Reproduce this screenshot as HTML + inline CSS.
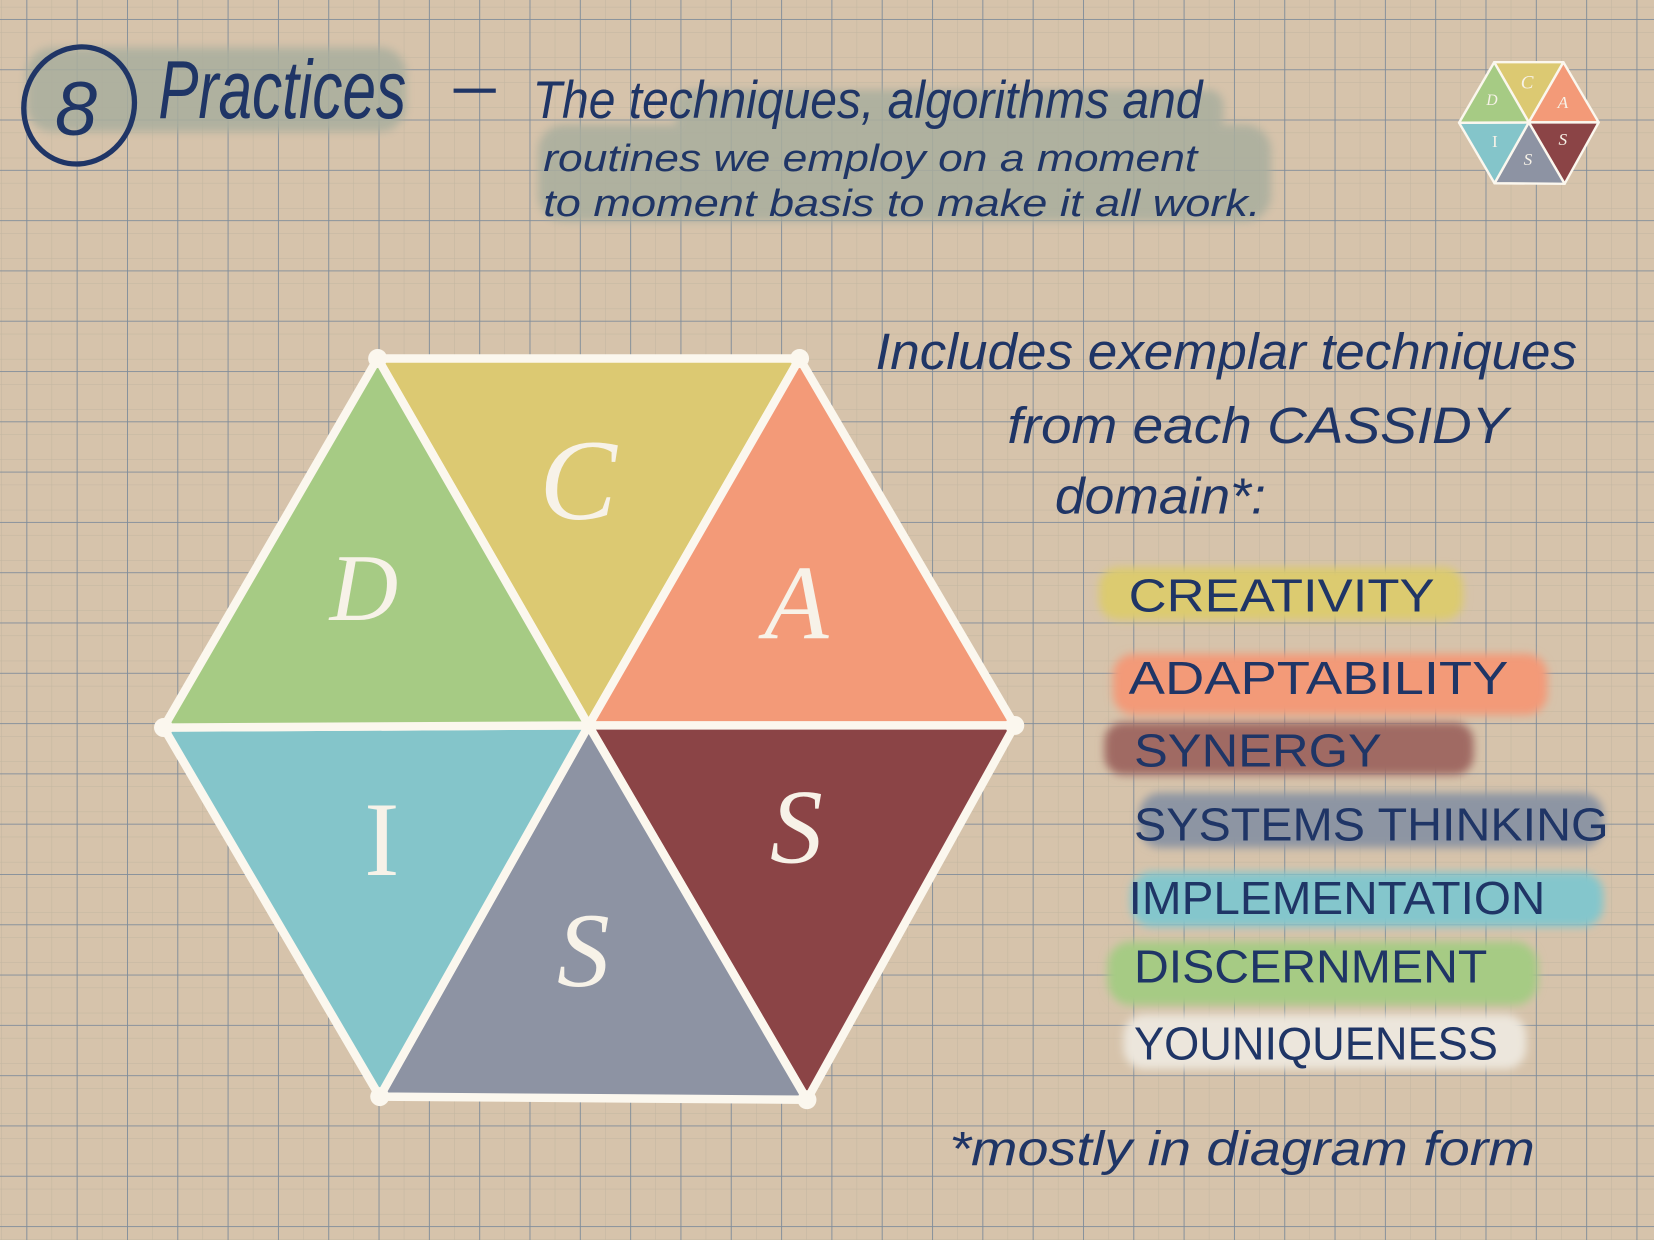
<!DOCTYPE html>
<html><head><meta charset="utf-8"><style>
html,body{margin:0;padding:0;background:#d6c3ab;}
svg{display:block}
</style></head><body>
<svg width="1654" height="1240" viewBox="0 0 1568 1176" preserveAspectRatio="none" xmlns="http://www.w3.org/2000/svg">
<defs>
<pattern id="minor" x="1.2" y="6.5" width="23.85" height="23.85" patternUnits="userSpaceOnUse">
<path d="M0 0H23.85M0 0V23.85" stroke="#c2b6a0" stroke-width="1" fill="none"/>
</pattern>
<pattern id="major" x="25" y="18" width="47.7" height="47.7" patternUnits="userSpaceOnUse">
<path d="M0 0H47.7M0 0V47.7" stroke="#7f8c9a" stroke-width="1.7" fill="none"/>
</pattern>
<filter id="blur" x="-10%" y="-30%" width="120%" height="160%"><feGaussianBlur stdDeviation="4"/></filter>
</defs>
<rect width="1568" height="1176" fill="#d6c3ab"/>
<rect width="1568" height="1176" fill="url(#minor)"/>
<rect width="1568" height="1176" fill="url(#major)"/>

<g filter="url(#blur)" opacity="0.85">
<rect x="25" y="45" width="360" height="80" rx="25" fill="#a9ae9e"/>
<rect x="640" y="85" width="520" height="40" rx="15" fill="#a9ae9e"/>
<rect x="510" y="118" width="695" height="92" rx="25" fill="#a9ae9e"/>
</g>

<g fill="#1f3566" font-family="Liberation Sans, sans-serif">
<ellipse cx="75" cy="100" rx="52" ry="56" fill="none" stroke="#1f3566" stroke-width="5" transform="rotate(20 75 100)"/>
<text x="52" y="128" font-size="72" font-style="italic">8</text>
<text x="150" y="112" font-size="78" font-style="italic" textLength="235" lengthAdjust="spacingAndGlyphs">Practices</text>
<rect x="430" y="84" width="40" height="4"/>
<text x="505" y="112" font-size="50" font-style="italic" textLength="635" lengthAdjust="spacingAndGlyphs">The techniques, algorithms and</text>
<text x="515" y="162" font-size="36" font-style="italic" textLength="620" lengthAdjust="spacingAndGlyphs">routines we employ on a moment</text>
<text x="515" y="205" font-size="36" font-style="italic" textLength="680" lengthAdjust="spacingAndGlyphs">to moment basis to make it all work.</text>

<text x="830" y="350" font-size="48" font-style="italic" textLength="665" lengthAdjust="spacingAndGlyphs">Includes exemplar techniques</text>
<text x="955" y="420" font-size="48" font-style="italic" textLength="475" lengthAdjust="spacingAndGlyphs">from each CASSIDY</text>
<text x="1000" y="487" font-size="48" font-style="italic" textLength="200" lengthAdjust="spacingAndGlyphs">domain*:</text>
</g>

<g filter="url(#blur)">
<rect x="1042" y="538" width="345" height="50" rx="18" fill="#dccb6f"/>
<rect x="1055" y="620" width="412" height="58" rx="20" fill="#f39a78"/>
<rect x="1047" y="685" width="350" height="50" rx="18" fill="#a06a64"/>
<rect x="1080" y="752" width="440" height="52" rx="20" fill="#8d95a3"/>
<rect x="1072" y="827" width="448" height="52" rx="20" fill="#84c6cc"/>
<rect x="1050" y="893" width="408" height="60" rx="22" fill="#a6cb84"/>
<rect x="1065" y="962" width="382" height="52" rx="20" fill="#ece6dc"/>
</g>
<g fill="#1f3566" font-family="Liberation Sans, sans-serif" font-size="44">
<text x="1070" y="580" textLength="290" lengthAdjust="spacingAndGlyphs">CREATIVITY</text>
<text x="1070" y="658" textLength="360" lengthAdjust="spacingAndGlyphs">ADAPTABILITY</text>
<text x="1075" y="727" textLength="235" lengthAdjust="spacingAndGlyphs">SYNERGY</text>
<text x="1075" y="797" textLength="450" lengthAdjust="spacingAndGlyphs">SYSTEMS THINKING</text>
<text x="1070" y="867" textLength="395" lengthAdjust="spacingAndGlyphs">IMPLEMENTATION</text>
<text x="1075" y="932" textLength="335" lengthAdjust="spacingAndGlyphs">DISCERNMENT</text>
<text x="1075" y="1005" textLength="345" lengthAdjust="spacingAndGlyphs">YOUNIQUENESS</text>
<text x="900" y="1105" font-size="46" font-style="italic" textLength="555" lengthAdjust="spacingAndGlyphs">*mostly in diagram form</text>
</g>

<g stroke="#fbf7ee" stroke-width="8" stroke-linejoin="round">
<polygon points="358,340 758,340 558,688" fill="#dcc972"/>
<polygon points="758,340 962,688 558,688" fill="#f39a78"/>
<polygon points="962,688 765,1043 558,688" fill="#8b4446"/>
<polygon points="765,1043 360,1040 558,688" fill="#8d93a3"/>
<polygon points="360,1040 155,690 558,688" fill="#84c5ca"/>
<polygon points="155,690 358,340 558,688" fill="#a6cb84"/>
</g>
<g fill="#fbf7ee">
<circle cx="358" cy="340" r="9"/><circle cx="758" cy="340" r="9"/><circle cx="962" cy="688" r="9"/>
<circle cx="765" cy="1043" r="9"/><circle cx="360" cy="1040" r="9"/><circle cx="155" cy="690" r="9"/>
</g>
<g fill="#f7f2e8" font-family="Liberation Serif, serif" font-style="italic" text-anchor="middle">
<text x="548" y="492" font-size="110">C</text>
<text x="345" y="588" font-size="90">D</text>
<text x="755" y="605" font-size="100">A</text>
<text x="362" y="830" font-size="100" font-style="normal">I</text>
<text x="755" y="818" font-size="100">S</text>
<text x="553" y="935" font-size="100">S</text>
</g>

<g transform="translate(1416.5,59) scale(0.164) translate(-358,-340)">
<g stroke="#fbf7ee" stroke-width="14" stroke-linejoin="round">
<polygon points="358,340 758,340 558,688" fill="#dcc972"/>
<polygon points="758,340 962,688 558,688" fill="#f39a78"/>
<polygon points="962,688 765,1043 558,688" fill="#8b4446"/>
<polygon points="765,1043 360,1040 558,688" fill="#8d93a3"/>
<polygon points="360,1040 155,690 558,688" fill="#84c5ca"/>
<polygon points="155,690 358,340 558,688" fill="#a6cb84"/>
</g>
<g fill="#f7f2e8" font-family="Liberation Serif, serif" font-style="italic" text-anchor="middle">
<text x="548" y="492" font-size="110">C</text>
<text x="345" y="588" font-size="90">D</text>
<text x="755" y="605" font-size="100">A</text>
<text x="362" y="830" font-size="100" font-style="normal">I</text>
<text x="755" y="818" font-size="100">S</text>
<text x="553" y="935" font-size="100">S</text>
</g>
</g>
</svg>
</body></html>
